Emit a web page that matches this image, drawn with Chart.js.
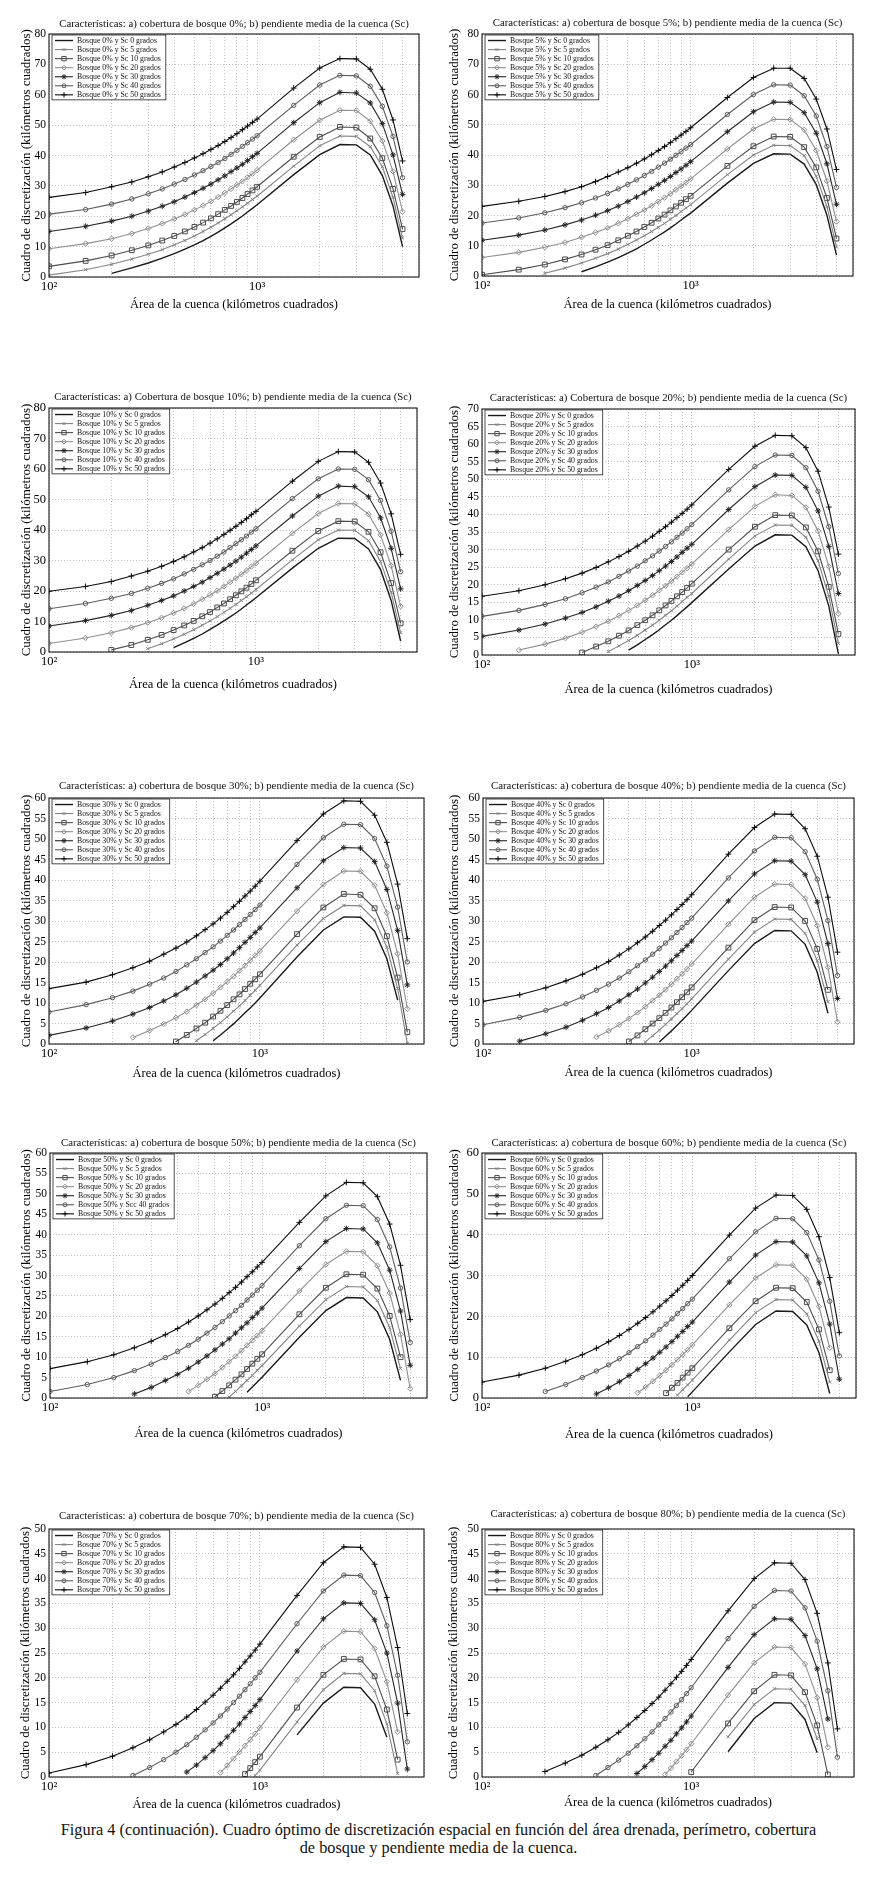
<!DOCTYPE html>
<html>
<head>
<meta charset="utf-8">
<script src="https://cdn.jsdelivr.net/npm/chart.js@4.4.1/dist/chart.umd.min.js"></script>
<style>
  body { margin: 0; background: #fff; }
  #fig { position: relative; width: 877px; height: 1899px; }
  #fig canvas { position: absolute; }
  .caption {
    position: absolute; left: 0; top: 1821px; width: 877px;
    text-align: center; font-family: 'Liberation Serif', serif;
    font-size: 16.3px; line-height: 18px; color: #111;
  }
</style>
</head>
<body>
<div id="fig">
  <div class="caption">Figura 4 (continuación). Cuadro óptimo de discretización espacial en función del área drenada, perímetro, cobertura<br>de bosque y pendiente media de la cuenca.</div>
</div>
<script>
// eje x (km2) y pendientes
const areaKm2 = [100, 150, 200, 250, 300, 350, 400, 450, 500, 550, 600, 650, 700, 750, 800, 850, 900, 950, 1000, 1500, 2000, 2500, 3000, 3500, 4000, 4500, 5000];
const slopes = [0, 5, 10, 20, 30, 40, 50];
const forestPct = [0, 5, 10, 20, 30, 40, 50, 60, 70, 80];
const yMax = [80, 80, 80, 70, 60, 60, 60, 60, 50, 50];
const yStep = [5, 5, 10, 5, 5, 5, 5, 10, 5, 5];
const xGrid = [100, 200, 300, 400, 500, 600, 700, 800, 900, 1000, 2000, 3000, 4000, 5000, 6000];

// one row per Sc (0,5,10,20,30,40,50)
const bosque0 = [
  [null, null, 1.2, 3.0, 4.6, 6.2, 7.7, 9.2, 10.6, 12.0, 13.4, 14.8, 16.2, 17.5, 18.8, 20.1, 21.4, 22.6, 23.8, 33.7, 40.3, 43.6, 43.5, 40.2, 33.4, 23.4, 10.0],
  [0.6, 2.4, 4.2, 5.9, 7.5, 9.0, 10.6, 12.0, 13.5, 15.0, 16.4, 17.8, 19.2, 20.5, 21.8, 23.1, 24.3, 25.5, 26.6, 36.5, 43.2, 46.4, 46.3, 42.9, 36.3, 26.2, 12.9],
  [3.5, 5.3, 7.1, 8.8, 10.4, 12.0, 13.5, 15.0, 16.5, 17.9, 19.3, 20.7, 22.1, 23.4, 24.7, 26.0, 27.3, 28.5, 29.7, 39.6, 46.1, 49.4, 49.2, 45.6, 39.1, 29.0, 15.8],
  [9.3, 11.0, 12.6, 14.3, 16.0, 17.6, 19.1, 20.6, 22.1, 23.5, 24.9, 26.3, 27.7, 29.0, 30.3, 31.5, 32.8, 34.0, 35.2, 45.2, 51.6, 54.9, 54.8, 51.3, 44.8, 34.8, 21.5],
  [15.0, 16.7, 18.4, 20.0, 21.7, 23.3, 24.8, 26.3, 27.8, 29.2, 30.6, 32.0, 33.3, 34.7, 35.9, 37.1, 38.3, 39.6, 40.7, 50.8, 57.4, 60.8, 60.6, 57.3, 50.5, 40.2, 27.2],
  [20.7, 22.2, 24.0, 25.7, 27.4, 29.0, 30.6, 32.1, 33.6, 35.0, 36.4, 37.7, 39.0, 40.4, 41.7, 43.0, 44.2, 45.4, 46.5, 56.5, 63.2, 66.4, 66.2, 62.8, 56.2, 46.3, 32.7],
  [26.2, 27.8, 29.7, 31.3, 33.0, 34.6, 36.2, 37.7, 39.2, 40.6, 42.0, 43.3, 44.6, 45.9, 47.2, 48.5, 49.7, 50.9, 52.0, 62.2, 68.8, 71.9, 71.8, 68.4, 61.8, 51.7, 38.2]
];
const bosque5 = [
  [null, null, null, null, 1.4, 3.0, 4.6, 6.1, 7.6, 9.0, 10.5, 11.9, 13.3, 14.6, 15.9, 17.2, 18.5, 19.7, 20.8, 30.7, 37.2, 40.4, 40.3, 37.0, 30.2, 20.1, 6.9],
  [null, null, 0.9, 2.6, 4.3, 5.9, 7.4, 8.9, 10.4, 11.9, 13.3, 14.7, 16.1, 17.4, 18.8, 20.0, 21.3, 22.5, 23.6, 33.5, 40.0, 43.2, 43.1, 39.8, 33.0, 22.9, 9.6],
  [0.4, 2.1, 3.8, 5.5, 7.1, 8.7, 10.2, 11.8, 13.3, 14.7, 16.2, 17.6, 19.0, 20.3, 21.7, 23.0, 24.2, 25.4, 26.5, 36.4, 42.9, 46.1, 46.0, 42.6, 35.9, 25.8, 12.4],
  [6.1, 7.8, 9.5, 11.1, 12.8, 14.4, 15.9, 17.4, 18.9, 20.4, 21.8, 23.2, 24.6, 25.9, 27.2, 28.5, 29.7, 30.9, 32.1, 42.0, 48.6, 51.8, 51.7, 48.3, 41.5, 31.4, 18.0],
  [11.8, 13.5, 15.2, 16.9, 18.5, 20.1, 21.6, 23.1, 24.6, 26.1, 27.5, 28.9, 30.3, 31.6, 32.9, 34.2, 35.4, 36.6, 37.8, 47.7, 54.3, 57.5, 57.4, 54.0, 47.2, 37.1, 23.7],
  [17.5, 19.2, 20.9, 22.6, 24.2, 25.8, 27.3, 28.8, 30.3, 31.8, 33.2, 34.6, 36.0, 37.3, 38.6, 39.9, 41.1, 42.3, 43.4, 53.4, 60.0, 63.2, 63.1, 59.6, 52.9, 42.8, 29.3],
  [23.0, 24.7, 26.3, 27.9, 29.5, 31.2, 32.9, 34.4, 35.8, 37.3, 38.7, 40.1, 41.5, 42.8, 44.1, 45.4, 46.6, 47.8, 49.0, 59.0, 65.6, 68.7, 68.7, 65.3, 58.5, 48.6, 35.2]
];
const bosque10 = [
  [null, null, null, null, null, null, 1.4, 3.0, 4.5, 5.9, 7.4, 8.8, 10.2, 11.5, 12.8, 14.1, 15.4, 16.6, 17.8, 27.5, 34.0, 37.3, 37.2, 33.8, 27.0, 16.9, 3.6],
  [null, null, null, null, 1.1, 2.7, 4.3, 5.8, 7.3, 8.8, 10.2, 11.6, 13.0, 14.3, 15.6, 16.9, 18.1, 19.3, 20.5, 30.2, 36.8, 40.0, 39.9, 36.5, 29.7, 19.6, 6.3],
  [null, null, 0.7, 2.3, 4.0, 5.6, 7.2, 8.7, 10.2, 11.7, 13.1, 14.6, 15.9, 17.3, 18.6, 19.9, 21.1, 22.3, 23.5, 33.2, 39.7, 42.9, 42.8, 39.4, 32.7, 22.6, 9.4],
  [2.8, 4.6, 6.3, 8.0, 9.6, 11.2, 12.8, 14.3, 15.8, 17.3, 18.7, 20.1, 21.5, 22.9, 24.2, 25.5, 26.7, 28.0, 29.1, 38.9, 45.4, 48.7, 48.6, 45.2, 38.4, 28.3, 15.0],
  [8.5, 10.3, 12.0, 13.6, 15.3, 16.9, 18.4, 20.0, 21.5, 22.9, 24.4, 25.8, 27.2, 28.5, 29.8, 31.1, 32.4, 33.6, 34.8, 44.6, 51.1, 54.4, 54.2, 50.9, 44.0, 34.0, 20.7],
  [14.2, 15.9, 17.6, 19.2, 20.9, 22.5, 24.0, 25.6, 27.1, 28.6, 30.0, 31.4, 32.8, 34.2, 35.5, 36.8, 38.0, 39.3, 40.4, 50.3, 56.8, 60.0, 59.9, 56.5, 49.7, 39.6, 26.3],
  [19.9, 21.5, 23.1, 24.9, 26.5, 28.1, 29.7, 31.2, 32.8, 34.2, 35.7, 37.1, 38.5, 39.9, 41.2, 42.5, 43.7, 45.0, 46.1, 56.0, 62.5, 65.7, 65.6, 62.2, 55.4, 45.3, 32.0]
];
const bosque20 = [
  [null, null, null, null, null, null, null, null, 1.4, 2.9, 4.4, 5.8, 7.2, 8.6, 9.9, 11.2, 12.5, 13.7, 14.9, 24.5, 31.0, 34.2, 34.1, 30.8, 24.0, 13.9, 0.3],
  [null, null, null, null, null, null, 1.0, 2.6, 4.1, 5.6, 7.1, 8.5, 9.9, 11.3, 12.6, 13.9, 15.2, 16.4, 17.5, 27.3, 33.9, 37.0, 36.9, 33.5, 26.8, 16.7, 3.3],
  [null, null, null, null, 0.7, 2.4, 3.9, 5.5, 7.0, 8.5, 9.9, 11.3, 12.7, 14.1, 15.4, 16.7, 17.9, 19.1, 20.3, 30.0, 36.5, 39.8, 39.7, 36.3, 29.5, 19.4, 6.0],
  [null, 1.4, 3.1, 4.8, 6.5, 8.1, 9.6, 11.2, 12.7, 14.1, 15.6, 17.0, 18.4, 19.7, 21.0, 22.3, 23.5, 24.7, 25.9, 35.7, 42.3, 45.6, 45.4, 42.0, 35.3, 25.2, 11.8],
  [5.3, 7.1, 8.8, 10.5, 12.1, 13.7, 15.3, 16.8, 18.3, 19.8, 21.2, 22.6, 24.0, 25.3, 26.6, 27.9, 29.2, 30.4, 31.5, 41.4, 47.9, 51.2, 51.1, 47.7, 41.0, 30.9, 17.5],
  [11.0, 12.7, 14.4, 16.0, 17.7, 19.3, 20.8, 22.4, 23.9, 25.3, 26.8, 28.2, 29.6, 30.9, 32.2, 33.5, 34.7, 35.9, 37.1, 47.0, 53.6, 56.9, 56.8, 53.3, 46.6, 36.5, 23.2],
  [16.7, 18.3, 20.0, 21.7, 23.3, 24.9, 26.5, 28.0, 29.5, 31.0, 32.4, 33.8, 35.2, 36.5, 37.8, 39.1, 40.3, 41.5, 42.7, 52.8, 59.4, 62.5, 62.4, 59.0, 52.3, 42.1, 28.7]
];
const bosque30 = [
  [null, null, null, null, null, null, null, null, null, null, 0.8, 2.2, 3.6, 4.9, 6.3, 7.6, 8.8, 10.0, 11.2, 21.2, 27.8, 31.0, 30.9, 27.5, 20.8, 10.7, null],
  [null, null, null, null, null, null, null, null, 0.8, 2.3, 3.8, 5.2, 6.6, 8.0, 9.3, 10.6, 11.9, 13.1, 14.3, 24.1, 30.6, 33.8, 33.7, 30.3, 23.6, 13.5, 0.1],
  [null, null, null, null, null, null, 0.6, 2.2, 3.8, 5.2, 6.7, 8.1, 9.5, 10.9, 12.1, 13.4, 14.7, 15.8, 17.0, 26.8, 33.3, 36.6, 36.4, 33.1, 26.3, 16.2, 2.9],
  [null, null, null, 1.6, 3.3, 4.9, 6.4, 7.9, 9.5, 10.9, 12.4, 13.8, 15.2, 16.5, 17.9, 19.1, 20.4, 21.6, 22.7, 32.4, 38.9, 42.2, 42.1, 38.7, 32.0, 22.0, 8.6],
  [2.1, 3.9, 5.6, 7.3, 8.9, 10.5, 12.0, 13.6, 15.1, 16.6, 18.0, 19.4, 20.8, 22.2, 23.5, 24.8, 26.0, 27.2, 28.3, 38.1, 44.7, 47.9, 47.8, 44.5, 37.7, 27.7, 14.4],
  [7.8, 9.6, 11.3, 12.9, 14.6, 16.1, 17.7, 19.3, 20.8, 22.3, 23.7, 25.1, 26.5, 27.8, 29.1, 30.4, 31.6, 32.8, 33.9, 43.8, 50.3, 53.6, 53.5, 50.1, 43.4, 33.4, 20.0],
  [13.5, 15.1, 16.9, 18.6, 20.2, 21.9, 23.4, 24.9, 26.4, 27.9, 29.3, 30.7, 32.1, 33.5, 34.8, 36.1, 37.3, 38.5, 39.7, 49.6, 56.1, 59.3, 59.2, 55.8, 49.2, 39.0, 25.7]
];
const bosque40 = [
  [null, null, null, null, null, null, null, null, null, null, null, null, 0.5, 1.9, 3.2, 4.5, 5.8, 7.0, 8.2, 17.9, 24.5, 27.7, 27.6, 24.3, 17.5, 7.5, null],
  [null, null, null, null, null, null, null, null, null, null, 0.5, 2.0, 3.4, 4.8, 6.1, 7.4, 8.6, 9.8, 11.0, 20.7, 27.3, 30.5, 30.4, 27.0, 20.3, 10.3, null],
  [null, null, null, null, null, null, null, null, 0.6, 2.1, 3.6, 5.0, 6.3, 7.6, 8.9, 10.2, 11.4, 12.6, 13.8, 23.5, 30.2, 33.4, 33.3, 30.0, 23.2, 13.2, null],
  [null, null, null, null, null, 1.7, 3.2, 4.7, 6.2, 7.7, 9.1, 10.6, 11.9, 13.3, 14.6, 15.9, 17.1, 18.3, 19.5, 29.2, 35.8, 39.0, 38.9, 35.5, 28.9, 18.7, 5.4],
  [null, 0.7, 2.5, 4.1, 5.8, 7.4, 8.9, 10.5, 12.0, 13.4, 14.9, 16.3, 17.7, 19.0, 20.3, 21.6, 22.8, 24.0, 25.1, 34.9, 41.5, 44.7, 44.6, 41.3, 34.6, 24.5, 11.1],
  [4.7, 6.5, 8.2, 9.8, 11.5, 13.1, 14.6, 16.1, 17.6, 19.1, 20.5, 21.9, 23.3, 24.6, 25.9, 27.2, 28.4, 29.6, 30.7, 40.5, 47.1, 50.4, 50.3, 46.9, 40.2, 30.1, 16.7],
  [10.4, 12.0, 13.7, 15.4, 17.0, 18.6, 20.1, 21.7, 23.2, 24.7, 26.1, 27.5, 28.9, 30.2, 31.5, 32.8, 34.0, 35.2, 36.4, 46.3, 52.8, 56.1, 56.0, 52.5, 45.8, 35.8, 22.4]
];
const bosque50 = [
  [null, null, null, null, null, null, null, null, null, null, null, null, null, null, null, 1.4, 2.7, 3.9, 5.1, 14.9, 21.4, 24.6, 24.5, 21.1, 14.4, 4.3, null],
  [null, null, null, null, null, null, null, null, null, null, null, null, 0.2, 1.6, 3.0, 4.3, 5.5, 6.8, 7.9, 17.6, 24.1, 27.3, 27.2, 23.9, 17.2, 7.2, null],
  [null, null, null, null, null, null, null, null, null, null, 0.3, 1.7, 3.1, 4.5, 5.8, 7.1, 8.4, 9.6, 10.7, 20.5, 27.0, 30.3, 30.2, 26.8, 20.1, 10.0, null],
  [null, null, null, null, null, null, null, 1.6, 3.1, 4.6, 6.0, 7.5, 8.9, 10.2, 11.6, 12.9, 14.1, 15.3, 16.5, 26.2, 32.7, 35.9, 35.8, 32.4, 25.7, 15.6, 2.3],
  [null, null, null, 1.0, 2.6, 4.3, 5.8, 7.3, 8.8, 10.3, 11.8, 13.2, 14.5, 15.9, 17.2, 18.4, 19.7, 20.8, 22.0, 31.7, 38.3, 41.5, 41.4, 38.0, 31.3, 21.3, 8.0],
  [1.6, 3.3, 5.0, 6.7, 8.3, 9.9, 11.4, 12.9, 14.4, 15.9, 17.3, 18.7, 20.1, 21.4, 22.7, 24.0, 25.2, 26.4, 27.5, 37.3, 43.9, 47.2, 47.1, 43.7, 37.0, 26.9, 13.6],
  [7.2, 8.9, 10.6, 12.3, 13.9, 15.5, 17.0, 18.6, 20.1, 21.6, 23.0, 24.4, 25.8, 27.1, 28.4, 29.7, 30.9, 32.1, 33.2, 43.0, 49.5, 52.8, 52.7, 49.3, 42.6, 32.5, 19.2]
];
const bosque60 = [
  [null, null, null, null, null, null, null, null, null, null, null, null, null, null, null, null, null, 0.3, 1.5, 11.3, 18.0, 21.3, 21.2, 17.9, 11.1, 1.1, null],
  [null, null, null, null, null, null, null, null, null, null, null, null, null, null, null, 0.7, 2.0, 3.2, 4.4, 14.2, 20.9, 24.1, 24.0, 20.6, 13.9, 3.9, null],
  [null, null, null, null, null, null, null, null, null, null, null, null, null, 1.2, 2.5, 3.7, 5.0, 6.2, 7.3, 17.1, 23.7, 27.0, 26.9, 23.5, 16.8, 6.8, null],
  [null, null, null, null, null, null, null, null, null, 1.3, 2.7, 4.1, 5.5, 6.8, 8.1, 9.4, 10.6, 11.8, 13.0, 22.8, 29.4, 32.6, 32.5, 29.1, 22.4, 12.3, null],
  [null, null, null, null, null, 1.0, 2.5, 4.0, 5.5, 7.0, 8.4, 9.8, 11.2, 12.5, 13.8, 15.1, 16.3, 17.5, 18.6, 28.4, 35.0, 38.3, 38.2, 34.8, 28.2, 18.1, 4.6],
  [null, null, 1.6, 3.3, 5.0, 6.6, 8.1, 9.6, 11.1, 12.6, 14.0, 15.4, 16.8, 18.1, 19.4, 20.7, 21.9, 23.1, 24.2, 34.1, 40.7, 44.0, 43.9, 40.5, 33.8, 23.7, 10.3],
  [3.9, 5.6, 7.3, 9.0, 10.6, 12.2, 13.8, 15.3, 16.8, 18.3, 19.7, 21.1, 22.5, 23.8, 25.1, 26.4, 27.6, 28.8, 30.0, 39.9, 46.5, 49.7, 49.6, 46.2, 39.5, 29.5, 16.0]
];
const bosque70 = [
  [null, null, null, null, null, null, null, null, null, null, null, null, null, null, null, null, null, null, null, 8.5, 14.9, 18.1, 18.0, 14.7, 8.0, null, null],
  [null, null, null, null, null, null, null, null, null, null, null, null, null, null, null, null, null, 0.3, 1.4, 11.1, 17.6, 20.9, 20.8, 17.4, 10.7, 0.7, null],
  [null, null, null, null, null, null, null, null, null, null, null, null, null, null, null, 0.6, 1.8, 3.0, 4.1, 14.0, 20.6, 23.8, 23.7, 20.3, 13.6, 3.5, null],
  [null, null, null, null, null, null, null, null, null, null, null, 0.9, 2.3, 3.7, 5.0, 6.3, 7.5, 8.7, 9.9, 19.6, 26.2, 29.4, 29.3, 25.9, 19.2, 9.1, null],
  [null, null, null, null, null, null, null, 1.0, 2.4, 3.9, 5.3, 6.7, 8.1, 9.4, 10.7, 12.0, 13.2, 14.4, 15.6, 25.4, 31.9, 35.1, 35.0, 31.7, 25.0, 14.9, 1.6],
  [null, null, null, 0.3, 1.9, 3.5, 5.0, 6.5, 8.0, 9.5, 10.9, 12.3, 13.7, 15.0, 16.3, 17.6, 18.8, 20.0, 21.1, 30.9, 37.5, 40.7, 40.6, 37.2, 30.5, 20.5, 7.1],
  [0.8, 2.5, 4.2, 5.9, 7.5, 9.1, 10.6, 12.1, 13.6, 15.1, 16.5, 17.9, 19.3, 20.6, 21.9, 23.2, 24.4, 25.6, 26.8, 36.6, 43.2, 46.4, 46.3, 42.9, 36.2, 26.1, 12.8]
];
const bosque80 = [
  [null, null, null, null, null, null, null, null, null, null, null, null, null, null, null, null, null, null, null, 5.1, 11.8, 15.0, 14.9, 11.6, 4.9, null, null],
  [null, null, null, null, null, null, null, null, null, null, null, null, null, null, null, null, null, null, null, 8.1, 14.6, 17.8, 17.7, 14.4, 7.7, null, null],
  [null, null, null, null, null, null, null, null, null, null, null, null, null, null, null, null, null, null, 1.0, 10.8, 17.3, 20.6, 20.5, 17.1, 10.4, 0.5, null],
  [null, null, null, null, null, null, null, null, null, null, null, null, null, 0.5, 1.8, 3.1, 4.3, 5.5, 6.7, 16.5, 23.0, 26.2, 26.1, 22.8, 16.0, 6.0, null],
  [null, null, null, null, null, null, null, null, null, 0.7, 2.1, 3.5, 4.8, 6.2, 7.4, 8.7, 9.9, 11.1, 12.3, 22.1, 28.7, 31.9, 31.8, 28.5, 21.8, 11.7, null],
  [null, null, null, null, null, 0.3, 1.9, 3.4, 4.8, 6.3, 7.7, 9.1, 10.5, 11.8, 13.1, 14.4, 15.6, 16.8, 18.0, 27.9, 34.4, 37.6, 37.5, 34.1, 27.4, 17.4, 4.0],
  [null, null, 1.1, 2.8, 4.4, 6.0, 7.5, 9.0, 10.5, 12.0, 13.4, 14.8, 16.1, 17.5, 18.8, 20.1, 21.3, 22.5, 23.7, 33.5, 40.0, 43.2, 43.1, 39.8, 33.0, 23.0, 9.7]
];
const panelData = [bosque0, bosque5, bosque10, bosque20, bosque30, bosque40, bosque50, bosque60, bosque70, bosque80];

// plot areas in page px (l,r,t,b) + gaps for title / x label / y label
const boxes = [
  {l: 49, r: 419, t: 34, b: 277, tg: 10, xg: 28, yg: 22},
  {l: 482, r: 853, t: 34, b: 276, tg: 11, xg: 29, yg: 27},
  {l: 49, r: 417, t: 408, b: 652, tg: 11, xg: 33, yg: 22},
  {l: 482, r: 855, t: 409, b: 655, tg: 11, xg: 35, yg: 27},
  {l: 49, r: 424, t: 798, b: 1044, tg: 12, xg: 30, yg: 22},
  {l: 483, r: 854, t: 798, b: 1044, tg: 12, xg: 29, yg: 28},
  {l: 50, r: 427, t: 1153, b: 1398, tg: 10, xg: 36, yg: 23},
  {l: 482, r: 856, t: 1153, b: 1398, tg: 10, xg: 37, yg: 27},
  {l: 49, r: 424, t: 1529, b: 1777, tg: 13, xg: 28, yg: 23},
  {l: 482, r: 854, t: 1529, b: 1777, tg: 15, xg: 26, yg: 28}
];

const seriesStyle = [
  {color: '#1a1a1a', point: false, radius: 0, width: 1.4},
  {color: '#858585', point: 'crossRot', radius: 2.2, width: 1.1},
  {color: '#4d4d4d', point: 'rect', radius: 3.4, width: 1.1},
  {color: '#8f8f8f', point: 'rectRot', radius: 2.7, width: 1.1},
  {color: '#262626', point: 'star', radius: 2.9, width: 1.1},
  {color: '#5c5c5c', point: 'circle', radius: 2.2, width: 1.1},
  {color: '#0d0d0d', point: 'cross', radius: 2.9, width: 1.1}
];

const FONT = "'Liberation Serif', 'Times New Roman', serif";
Chart.defaults.font.family = FONT;
Chart.defaults.color = '#000';

// frame round the plot + boxed legend (line with marker) in the top-left corner
const frameAndLegend = {
  id: 'frameAndLegend',
  afterDraw(chart) {
    const ctx = chart.ctx;
    const a = chart.chartArea;
    ctx.save();
    ctx.strokeStyle = '#000';
    ctx.lineWidth = 1;
    ctx.strokeRect(a.left, a.top, a.right - a.left, a.bottom - a.top);

    const sets = chart.data.datasets;
    const rowH = 9.05;
    ctx.font = '7.8px ' + FONT;
    let textW = 0;
    sets.forEach(ds => { textW = Math.max(textW, ctx.measureText(ds.label).width); });
    const x0 = a.left + 3;
    const y0 = a.top + 1;
    const bw = 26 + textW + 4;
    const bh = rowH * sets.length + 1.5;
    ctx.fillStyle = '#fff';
    ctx.fillRect(x0, y0, bw, bh);
    ctx.strokeStyle = '#222';
    ctx.lineWidth = 0.8;
    ctx.strokeRect(x0, y0, bw, bh);

    sets.forEach((ds, i) => {
      const st = seriesStyle[i];
      const cy = y0 + 1 + rowH * (i + 0.5);
      ctx.strokeStyle = st.color;
      ctx.lineWidth = st.width;
      ctx.beginPath();
      ctx.moveTo(x0 + 3, cy);
      ctx.lineTo(x0 + 21, cy);
      ctx.stroke();
      if (st.point) {
        ctx.fillStyle = 'rgba(0,0,0,0)';
        ctx.lineWidth = 1;
        Chart.helpers.drawPoint(ctx, {pointStyle: st.point, radius: st.radius * 0.9, rotation: 0, borderWidth: 1}, x0 + 12, cy);
      }
      ctx.fillStyle = '#111';
      ctx.textBaseline = 'middle';
      ctx.textAlign = 'left';
      ctx.fillText(ds.label, x0 + 25, cy + 0.5);
    });
    ctx.restore();
  }
};

const fig = document.getElementById('fig');

panelData.forEach((rows, k) => {
  const bx = boxes[k];
  const pct = forestPct[k];
  const cv = document.createElement('canvas');
  const w = bx.r - bx.l + 62;
  const h = bx.b - bx.t + 82;
  cv.width = w;
  cv.height = h;
  cv.style.left = (bx.l - 50) + 'px';
  cv.style.top = (bx.t - 34) + 'px';
  fig.appendChild(cv);

  const datasets = rows.map((vals, i) => {
    const st = seriesStyle[i];
    let lab = 'Bosque ' + pct + '% y Sc ' + slopes[i] + ' grados';
    if (pct === 50 && slopes[i] === 40) lab = 'Bosque 50% y Scc 40 grados';
    return {
      label: lab,
      data: areaKm2.map((a, j) => ({x: a, y: vals[j]})),
      borderColor: st.color,
      borderWidth: st.width,
      backgroundColor: 'rgba(0,0,0,0)',
      pointStyle: st.point || 'circle',
      pointRadius: st.point ? st.radius : 0,
      pointBorderWidth: 1,
      pointBorderColor: st.color,
      pointBackgroundColor: 'rgba(0,0,0,0)',
      tension: 0,
      fill: false
    };
  });

  const cap = (pct === 10 || pct === 20) ? 'Cobertura' : 'cobertura';
  const titleText = 'Características: a) ' + cap + ' de bosque ' + pct + '%; b) pendiente media de la cuenca (Sc)';
  const titleLH = 10.8 * 1.2;
  const tTop = 34 - bx.tg - titleLH / 2;

  new Chart(cv, {
    type: 'line',
    data: {datasets: datasets},
    options: {
      responsive: false,
      animation: false,
      layout: {padding: {left: 0, right: 12, top: 0, bottom: 0}},
      plugins: {
        title: {
          display: true,
          text: titleText,
          fullSize: false,
          color: '#111',
          font: {size: 10.8, weight: 'normal'},
          padding: {top: tTop, bottom: 34 - tTop - titleLH}
        },
        legend: {display: false},
        tooltip: {enabled: false}
      },
      scales: {
        x: {
          type: 'logarithmic',
          min: 100,
          max: 6000,
          afterBuildTicks: (s) => { s.ticks = xGrid.map(v => ({value: v})); },
          afterFit: (s) => { s.height = 48; },
          ticks: {
            autoSkip: false,
            maxRotation: 0,
            padding: 2,
            color: '#000',
            font: {size: 12.5},
            callback: (v) => v === 100 ? '10²' : (v === 1000 ? '10³' : '')
          },
          grid: {color: '#b3b3b3', lineWidth: 0.8, drawTicks: false},
          border: {display: false, dash: [1, 2]},
          title: {
            display: true,
            text: 'Área de la cuenca (kilómetros cuadrados)',
            color: '#000',
            font: {size: 12.5},
            padding: {top: 0, bottom: 48 - bx.xg - 7.5}
          }
        },
        y: {
          min: 0,
          max: yMax[k],
          afterFit: (s) => { s.width = 50; },
          ticks: {
            stepSize: yStep[k],
            padding: 3,
            color: '#000',
            font: {size: yStep[k] === 10 ? 12.5 : 11.5}
          },
          grid: {color: '#b3b3b3', lineWidth: 0.8, drawTicks: false},
          border: {display: false, dash: [1, 2]},
          title: {
            display: true,
            text: 'Cuadro de discretización (kilómetros cuadrados)',
            color: '#000',
            font: {size: 13},
            padding: {top: 50 - bx.yg - 7.8, bottom: 0}
          }
        }
      }
    },
    plugins: [frameAndLegend]
  });
});
</script>
</body>
</html>
